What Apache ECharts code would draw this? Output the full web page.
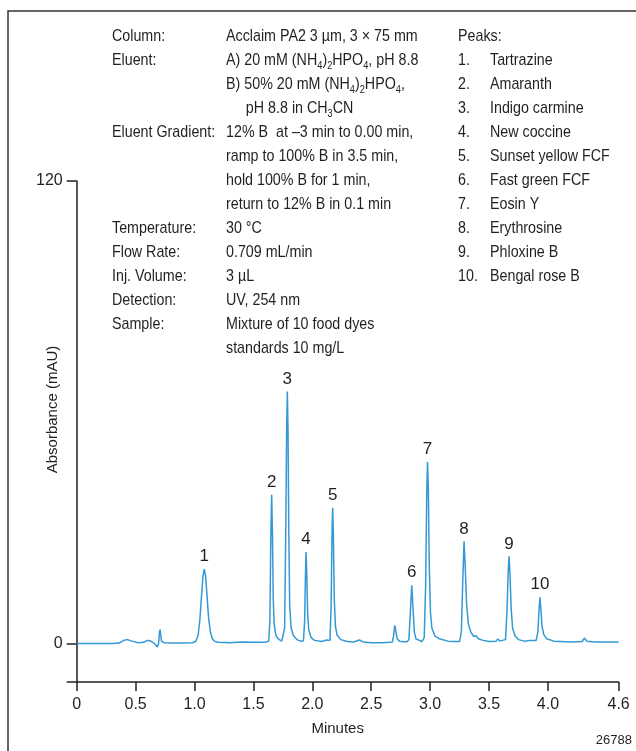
<!DOCTYPE html>
<html>
<head>
<meta charset="utf-8">
<script src="https://cdn.jsdelivr.net/npm/echarts@6/dist/echarts.min.js"></script>
<style>
  html, body { margin: 0; padding: 0; background: #fff; }
  #chart { width: 636px; height: 751px; }
</style>
</head>
<body>
<div id="chart"></div>
<script>
// 色谱图数据：时间 (min) 与吸光度 (mAU)
const timeMin = [
  0.00, 0.30, 0.36, 0.40, 0.43, 0.47, 0.52, 0.57, 0.60, 0.625, 0.66, 0.685, 0.695, 0.703, 0.708, 0.714, 0.72, 0.74, 0.80, 0.90,
  0.98, 1.01, 1.03, 1.045, 1.06, 1.072, 1.083, 1.094, 1.106, 1.12, 1.135, 1.15, 1.17, 1.20, 1.30, 1.40, 1.50, 1.60,
  1.63, 1.64, 1.648, 1.655, 1.662, 1.668, 1.676, 1.69, 1.71, 1.74,
  1.755, 1.765, 1.775, 1.782, 1.788, 1.794, 1.80, 1.808, 1.82, 1.84, 1.87, 1.90,
  1.925, 1.935, 1.942, 1.947, 1.953, 1.96, 1.97, 1.99, 2.02, 2.08, 2.12, 2.135,
  2.15, 2.16, 2.168, 2.173, 2.179, 2.186, 2.196, 2.21, 2.24, 2.30, 2.35, 2.40, 2.43, 2.50, 2.60,
  2.68, 2.69, 2.70, 2.71, 2.72, 2.74, 2.80,
  2.82, 2.832, 2.844, 2.855, 2.866, 2.88, 2.93,
  2.95, 2.962, 2.972, 2.978, 2.985, 2.993, 3.003, 3.015, 3.04, 3.08, 3.15, 3.20, 3.25,
  3.265, 3.276, 3.288, 3.298, 3.31, 3.325, 3.345, 3.37, 3.39, 3.41, 3.45, 3.50, 3.56, 3.575, 3.59,
  3.64, 3.652, 3.662, 3.67, 3.678, 3.688, 3.70, 3.72, 3.75, 3.80, 3.85, 3.90,
  3.915, 3.925, 3.932, 3.94, 3.95, 3.965, 3.99, 4.05, 4.20, 4.29, 4.31, 4.33, 4.40, 4.50, 4.60
];
const absorbance = [
  0.0, 0.0, 0.1, 0.8, 1.0, 0.6, 0.2, 0.3, 0.8, 0.7, 0.0, -0.9, 0.0, 3.0, 3.6, 2.0, 0.6, 0.2, 0.1, 0.1,
  0.2, 0.5, 2.0, 6.0, 12.5, 17.5, 19.3, 17.5, 12.5, 6.5, 3.0, 1.3, 0.6, 0.3, 0.2, 0.4, 0.3, 0.3,
  0.6, 6.0, 28.0, 38.6, 28.0, 12.0, 5.0, 2.2, 1.2, 0.6,
  0.6, 4.0, 30.0, 55.0, 65.4, 55.0, 30.0, 10.0, 4.0, 2.0, 1.0, 0.6,
  0.7, 6.0, 18.0, 23.7, 18.0, 8.0, 3.5, 1.5, 0.8, 0.5, 0.9, 0.5,
  0.8, 10.0, 30.0, 35.2, 28.0, 12.0, 4.5, 2.2, 1.0, 0.5, 0.4, 0.9, 0.4, 0.2, 0.2,
  0.4, 2.0, 4.7, 3.0, 1.2, 0.6, 0.4,
  1.0, 8.0, 15.1, 9.0, 3.0, 1.2, 0.5,
  1.5, 15.0, 40.0, 47.1, 40.0, 20.0, 8.0, 4.0, 2.0, 1.2, 0.6, 0.5, 0.5,
  3.0, 15.0, 26.5, 20.0, 10.0, 5.0, 3.0, 1.8, 2.0, 1.2, 0.8, 0.5, 0.6, 1.2, 0.6,
  1.0, 8.0, 18.0, 22.6, 18.0, 9.0, 4.0, 2.0, 1.0, 0.6, 0.8, 0.8,
  3.0, 9.0, 12.0, 9.0, 4.5, 2.3, 1.2, 0.6, 0.4, 0.5, 1.4, 0.6, 0.4, 0.4, 0.4
];

// 峰编号与峰顶位置
const peakNos = ['1', '2', '3', '4', '5', '6', '7', '8', '9', '10'];
const peakTimes = [1.083, 1.655, 1.788, 1.947, 2.173, 2.844, 2.978, 3.288, 3.67, 3.932];
const peakHeights = [19.3, 38.6, 65.4, 23.7, 35.2, 15.1, 47.1, 26.5, 22.6, 12.0];

// 坐标轴刻度
const xTicks = [0, 0.5, 1.0, 1.5, 2.0, 2.5, 3.0, 3.5, 4.0, 4.6];
const yTicks = [0, 120];

// 色谱条件说明
const condLabels = ['Column:', 'Eluent:', '', '', 'Eluent Gradient:', '', '', '', 'Temperature:', 'Flow Rate:', 'Inj. Volume:', 'Detection:', 'Sample:', ''];
const condValues = [
  'Acclaim PA2 3 µm, 3 × 75 mm',
  'A) 20 mM (NH{s|4}){s|2}HPO{s|4}, pH 8.8',
  'B) 50% 20 mM (NH{s|4}){s|2}HPO{s|4},',
  '     pH 8.8 in CH{s|3}CN',
  '12% B  at –3 min to 0.00 min,',
  'ramp to 100% B in 3.5 min,',
  'hold 100% B for 1 min,',
  'return to 12% B in 0.1 min',
  '30 °C',
  '0.709 mL/min',
  '3 µL',
  'UV, 254 nm',
  'Mixture of 10 food dyes',
  'standards 10 mg/L'
];
const peakNames = ['Tartrazine', 'Amaranth', 'Indigo carmine', 'New coccine', 'Sunset yellow FCF',
  'Fast green FCF', 'Eosin Y', 'Erythrosine', 'Phloxine B', 'Bengal rose B'];

const FONT = '"Liberation Sans", Arial, sans-serif';
const INK = '#231f20';
const LINE_BLUE = '#3399d6';
const NARROW = 0.84;

// 文本图形元素（横向压缩模拟窄体字）
function textEl(x, y, text, opts = {}) {
  return {
    type: 'text',
    x,
    y,
    scaleX: opts.scaleX || NARROW,
    silent: true,
    style: {
      text,
      fontSize: opts.fontSize || 17,
      fontFamily: FONT,
      fill: INK,
      align: opts.align || 'left',
      verticalAlign: 'middle',
      lineHeight: 22,
      rich: {
        s: { fontSize: 11, lineHeight: 11, verticalAlign: 'bottom', fontFamily: FONT, fill: INK }
      }
    }
  };
}

function buildGraphics() {
  const els = [];
  const rowTop = 36;
  const rowStep = 24;
  condLabels.forEach((label, i) => {
    if (label) els.push(textEl(112, rowTop + i * rowStep, label));
  });
  condValues.forEach((val, i) => {
    els.push(textEl(226, rowTop + i * rowStep, val));
  });
  els.push(textEl(458, rowTop, 'Peaks:'));
  peakNames.forEach((name, i) => {
    els.push(textEl(458, rowTop + (i + 1) * rowStep, (i + 1) + '.'));
    els.push(textEl(490, rowTop + (i + 1) * rowStep, name));
  });
  els.push(textEl(632, 740, '26788', { fontSize: 13, align: 'right', scaleX: 1 }));
  // 外框（上、左）
  els.push({
    type: 'polyline',
    silent: true,
    shape: { points: [[8, 751], [8, 11], [636, 11]] },
    style: { stroke: '#333', lineWidth: 1.5, fill: null }
  });
  return els;
}

const chartEl = document.getElementById('chart');
const chart = echarts.init(chartEl, null, { renderer: 'canvas' });

const axisText = { color: INK, fontSize: 16, fontFamily: FONT };

const option = {
  animation: false,
  backgroundColor: '#fff',
  grid: { left: 76.7, right: 17.4, top: 181, bottom: 69, containLabel: false, outerBoundsMode: 'none' },
  xAxis: {
    type: 'value',
    min: 0,
    max: 4.6,
    name: 'Minutes',
    nameLocation: 'middle',
    nameGap: 39,
    nameMoveOverlap: false,
    nameTextStyle: Object.assign({}, axisText, { fontSize: 15, padding: [0, 20, 0, 0] }),
    axisLine: { onZero: false, lineStyle: { color: INK, width: 1.5 } },
    axisTick: { show: true, customValues: xTicks, length: 9, lineStyle: { color: INK, width: 1.5 } },
    axisLabel: Object.assign({}, axisText, {
      customValues: xTicks,
      margin: 15,
      formatter: (v) => (v === 0 ? '0' : v.toFixed(1))
    }),
    splitLine: { show: false }
  },
  yAxis: {
    type: 'value',
    min: -10,
    max: 120,
    name: 'Absorbance (mAU)',
    nameLocation: 'middle',
    nameGap: 16,
    nameMoveOverlap: false,
    nameTextStyle: Object.assign({}, axisText, { fontSize: 15, padding: [0, 0, 0, 44] }),
    axisLine: { show: true, lineStyle: { color: INK, width: 1.5 } },
    axisTick: { show: true, customValues: [-10, 0, 120], length: 10, lineStyle: { color: INK, width: 1.5 } },
    axisLabel: Object.assign({}, axisText, { customValues: yTicks, margin: 14 }),
    splitLine: { show: false }
  },
  graphic: buildGraphics(),
  series: [
    {
      name: 'Absorbance',
      type: 'line',
      data: timeMin.map((t, i) => [t, absorbance[i]]),
      showSymbol: false,
      symbol: 'none',
      lineStyle: { color: LINE_BLUE, width: 1.5 },
      silent: true
    },
    {
      name: 'Peaks',
      type: 'scatter',
      symbolSize: 0,
      itemStyle: { opacity: 1 },
      data: peakTimes.map((t, i) => ({ name: peakNos[i], value: [t, peakHeights[i]] })),
      label: {
        show: true,
        position: 'top',
        distance: 4,
        formatter: '{b}',
        color: INK,
        fontSize: 17,
        fontFamily: FONT
      },
      silent: true
    }
  ]
};

chart.setOption(option);
window.addEventListener('resize', () => chart.resize());
</script>
</body>
</html>
